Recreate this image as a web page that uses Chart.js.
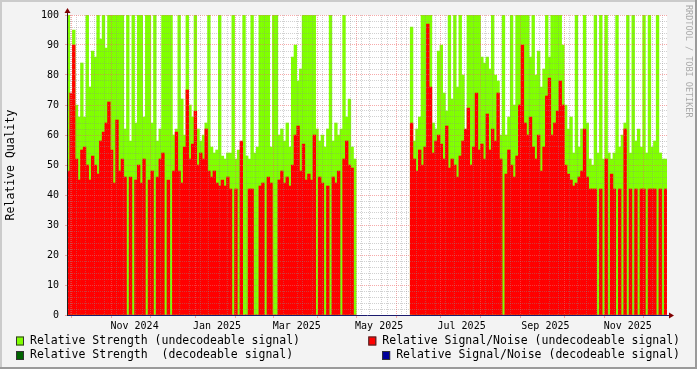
<!DOCTYPE html>
<html>
<head>
<meta charset="utf-8">
<title>Relative Quality</title>
<script src="https://cdn.jsdelivr.net/npm/chart.js@4.4.1/dist/chart.umd.min.js"></script>
<style>
    html, body { margin: 0; padding: 0; background: #f3f3f3; }
    #qualityChart { display: block; }
</style>
</head>
<body>
<canvas id="qualityChart" width="697" height="369"></canvas>
<script>
"use strict";

// one bin = 2 days, day 0 = 2024-09-27
const BIN_DAYS = 2;
const TOTAL_DAYS = 444;
const FIRST_MONDAY = 3;

const strengthUndecodeable = [
    100, 64, 95, 70, 66, 84, 66, 100, 76, 88,
    86, 100, 92, 100, 89, 100, 100, 100, 100, 100,
    100, 62, 100, 58, 100, 64, 100, 100, 66, 100,
    100, 64, 100, 58, 62, 100, 100, 100, 100, 60,
    62, 100, 72, 60, 100, 70, 66, 100, 62, 58,
    60, 64, 100, 56, 54, 55, 100, 53, 52, 54,
    54, 100, 52, 55, 54, 100, 53, 52, 100, 54,
    56, 100, 100, 100, 100, 56, 100, 100, 60, 62,
    58, 64, 56, 86, 90, 78, 82, 100, 100, 100,
    100, 100, 62, 58, 60, 56, 62, 100, 58, 64,
    60, 62, 100, 66, 72, 56, 52,
    null, null, null, null, null, null, null, null, null, null,
    null, null, null, null, null, null, null, null, null, null,
    96, 58, 62, 66, 100, 100, 100, 100, 64, 62,
    88, 90, 74, 68, 100, 72, 100, 76, 100, 80,
    60, 100, 100, 100, 100, 100, 86, 84, 86, 82,
    100, 80, 78, 60, 100, 60, 66, 100, 70, 100,
    100, 100, 100, 100, 86, 100, 80, 88, 76, 82,
    100, 86, 100, 100, 100, 100, 90, 70, 62, 66,
    54, 100, 56, 62, 100, 64, 52, 50, 100, 54,
    100, 52, 100, 54, 52, 54, 100, 56, 60, 64,
    100, 54, 100, 58, 62, 56, 100, 54, 100, 56,
    58, 100, 54, 52, 52
];

const snrUndecodeable = [
    48, 74, 90, 52, 45, 55, 56, 50, 45, 53,
    50, 47, 58, 61, 64, 71, 55, 44, 65, 48,
    52, 46, 0, 46, 0, 45, 50, 44, 52, 0,
    45, 48, 0, 46, 52, 54, 0, 45, 0, 48,
    61, 48, 44, 56, 75, 52, 57, 68, 50, 54,
    52, 62, 48, 46, 48, 44, 43, 45, 43, 46,
    42, 0, 42, 0, 58, 0, 0, 42, 42, 0,
    0, 43, 44, 0, 46, 44, 0, 0, 45, 48,
    44, 46, 43, 50, 60, 63, 48, 57, 45, 47,
    45, 60, 0, 46, 44, 0, 43, 0, 46, 44,
    48, 0, 52, 58, 50, 49, 0,
    null, null, null, null, null, null, null, null, null, null,
    null, null, null, null, null, null, null, null, null, null,
    64, 52, 48, 55, 50, 56, 97, 76, 54, 58,
    60, 57, 52, 63, 49, 52, 50, 46, 53, 58,
    62, 69, 50, 56, 74, 55, 57, 52, 67, 55,
    62, 58, 74, 52, 0, 47, 55, 50, 46, 53,
    70, 90, 64, 60, 66, 56, 52, 60, 48, 56,
    73, 79, 60, 64, 68, 78, 70, 50, 47, 45,
    43, 44, 46, 48, 62, 46, 42, 42, 42, 0,
    42, 0, 52, 0, 47, 42, 0, 42, 0, 62,
    0, 42, 0, 42, 0, 42, 42, 0, 42, 42,
    42, 0, 42, 0, 42
];

// nothing decodeable in this period
const strengthDecodeable = [];
const snrDecodeable = [];

const monthStartDays = [4, 35, 65, 96, 127, 155, 186, 216, 247, 277, 308, 339, 369, 400, 430];
const labelDays = [50, 111, 170, 231, 292, 354, 415];
const labelTexts = ['Nov 2024', 'Jan 2025', 'Mar 2025', 'May 2025', 'Jul 2025', 'Sep 2025', 'Nov 2025'];

const seriesNames = [
    'Relative Strength (undecodeable signal)',
    'Relative Signal/Noise (undecodeable signal)',
    'Relative Strength  (decodeable signal)',
    'Relative Signal/Noise (decodeable signal)'
];
const seriesColors = ['#80ff00', '#ff0000', '#006400', '#00009c'];

const MONO = '"DejaVu Sans Mono", "Liberation Mono", monospace';
const MINOR_GRID = 'rgba(140,140,140,0.4)';
const MAJOR_GRID = 'rgba(240,100,100,0.55)';

function toPoints(values) {
    return values.map((v, i) => ({ x: i * BIN_DAYS + BIN_DAYS / 2, y: v }));
}

function buildDayTicks() {
    const ticks = [];
    for (let d = FIRST_MONDAY; d < TOTAL_DAYS; d += 7) {
        if (!monthStartDays.includes(d)) ticks.push({ value: d, kind: 'week' });
    }
    monthStartDays.forEach(d => ticks.push({ value: d, kind: 'month' }));
    labelDays.forEach((d, i) => ticks.push({ value: d, kind: 'label', name: labelTexts[i] }));
    return ticks.sort((a, b) => a.value - b.value);
}

const rrdFrame = {
    id: 'rrdFrame',
    beforeDraw(chart) {
        const { ctx, width, height, chartArea: a } = chart;
        ctx.save();
        ctx.fillStyle = '#f3f3f3';
        ctx.fillRect(0, 0, width, height);
        ctx.fillStyle = '#ffffff';
        ctx.fillRect(a.left, a.top, a.right - a.left, a.bottom - a.top);
        ctx.restore();
    },
    afterDraw(chart) {
        const { ctx, width, height, chartArea: a } = chart;
        ctx.save();

        ctx.fillStyle = '#cbcbcb';
        ctx.fillRect(0, 0, width, 2);
        ctx.fillRect(0, 0, 2, height);
        ctx.fillStyle = '#9a9a9a';
        ctx.fillRect(0, height - 2, width, 2);
        ctx.fillRect(width - 2, 0, 2, height);

        // axis stubs + arrows
        ctx.lineWidth = 1;
        ctx.strokeStyle = '#202020';
        ctx.beginPath();
        ctx.moveTo(a.left + 0.5, a.top);
        ctx.lineTo(a.left + 0.5, a.top - 4);
        ctx.stroke();
        ctx.strokeStyle = '#1a1a6e';
        ctx.beginPath();
        ctx.moveTo(a.right, a.bottom + 0.5);
        ctx.lineTo(a.right + 3, a.bottom + 0.5);
        ctx.stroke();

        ctx.fillStyle = '#7f0000';
        ctx.beginPath();
        ctx.moveTo(a.left + 0.5, a.top - 7);
        ctx.lineTo(a.left - 2.5, a.top - 2);
        ctx.lineTo(a.left + 3.5, a.top - 2);
        ctx.closePath();
        ctx.fill();
        ctx.beginPath();
        ctx.moveTo(a.right + 7, a.bottom + 0.5);
        ctx.lineTo(a.right + 2, a.bottom - 2.5);
        ctx.lineTo(a.right + 2, a.bottom + 3.5);
        ctx.closePath();
        ctx.fill();

        // watermark
        ctx.save();
        ctx.translate(688, 5);
        ctx.rotate(Math.PI / 2);
        ctx.font = '8.5px ' + MONO;
        ctx.fillStyle = '#aaaaaa';
        ctx.textBaseline = 'middle';
        ctx.textAlign = 'left';
        ctx.fillText('RRDTOOL / TOBI OETIKER', 0, 0);
        ctx.restore();

        // legend, two columns, right one justified to the edge
        ctx.font = '11.5px ' + MONO;
        ctx.textBaseline = 'middle';
        ctx.textAlign = 'left';
        const rows = [341, 355.5];
        chart.data.datasets.forEach((ds, i) => {
            const y = rows[Math.floor(i / 2)];
            let tx = 30;
            if (i % 2 === 1) tx = 680 - ctx.measureText(ds.label).width;
            const bx = tx - 14;
            ctx.fillStyle = ds.backgroundColor;
            ctx.fillRect(bx, y - 4.5, 8, 9);
            ctx.strokeStyle = '#333333';
            ctx.strokeRect(bx + 0.5, y - 4.5 + 0.5, 7, 8);
            ctx.fillStyle = '#000000';
            ctx.fillText(ds.label, tx, y);
        });

        ctx.restore();
    }
};

function createChart() {
    const ctx = document.getElementById('qualityChart');
    Chart.defaults.font.family = MONO;

    const seriesData = [strengthUndecodeable, snrUndecodeable, strengthDecodeable, snrDecodeable];
    const drawOrder = [3, 2, 1, 0];

    // same stack id + unstacked y => bars overlap instead of sitting side by side
    const datasets = seriesNames.map((name, i) => ({
        label: name,
        data: toPoints(seriesData[i]),
        backgroundColor: seriesColors[i],
        borderWidth: 0,
        stack: 'rrd',
        order: drawOrder[i]
    }));

    new Chart(ctx, {
        type: 'bar',
        data: { datasets: datasets },
        options: {
            responsive: false,
            animation: false,
            events: [],
            layout: {
                padding: { left: 0, top: 15, right: 30, bottom: 34 }
            },
            datasets: {
                bar: {
                    barThickness: 'flex',
                    categoryPercentage: 1,
                    barPercentage: 1
                }
            },
            plugins: {
                legend: { display: false },
                tooltip: { enabled: false }
            },
            scales: {
                x: {
                    type: 'linear',
                    min: 0,
                    max: TOTAL_DAYS,
                    offset: false,
                    afterBuildTicks: (scale) => { scale.ticks = buildDayTicks(); },
                    afterFit: (scale) => { scale.height = 20; },
                    grid: {
                        z: 1,
                        lineWidth: 1,
                        tickLength: 3,
                        color: (c) => !c.tick ? MINOR_GRID : c.tick.kind === 'month' ? MAJOR_GRID : c.tick.kind === 'week' ? MINOR_GRID : 'transparent',
                        tickColor: (c) => c.tick && c.tick.kind === 'month' ? MAJOR_GRID : 'transparent'
                    },
                    border: { z: 2, color: '#1a1a6e', width: 1, dash: [1, 1] },
                    ticks: {
                        autoSkip: false,
                        maxRotation: 0,
                        minRotation: 0,
                        padding: 2,
                        color: '#000000',
                        font: { size: 10 },
                        callback: (v, i, ticks) => ticks[i].name || ''
                    }
                },
                y: {
                    min: 0,
                    max: 100,
                    stacked: false,
                    afterFit: (scale) => { scale.width = 67; },
                    title: {
                        display: true,
                        text: 'Relative Quality',
                        color: '#000000',
                        font: { size: 11.5 },
                        padding: { top: 4, bottom: 0 }
                    },
                    grid: {
                        z: 1,
                        lineWidth: 1,
                        tickLength: 2,
                        color: (c) => c.tick && c.tick.value % 10 === 0 ? MAJOR_GRID : MINOR_GRID,
                        tickColor: (c) => c.tick && c.tick.value % 10 === 0 ? MAJOR_GRID : 'transparent'
                    },
                    border: { z: 2, color: '#202020', width: 1, dash: [1, 1] },
                    ticks: {
                        stepSize: 2,
                        maxTicksLimit: 60,
                        autoSkip: false,
                        padding: 6,
                        color: '#000000',
                        font: { size: 10 },
                        callback: (v) => v % 10 === 0 ? String(v) : ''
                    }
                }
            }
        },
        plugins: [rrdFrame]
    });
}

createChart();
</script>
</body>
</html>
